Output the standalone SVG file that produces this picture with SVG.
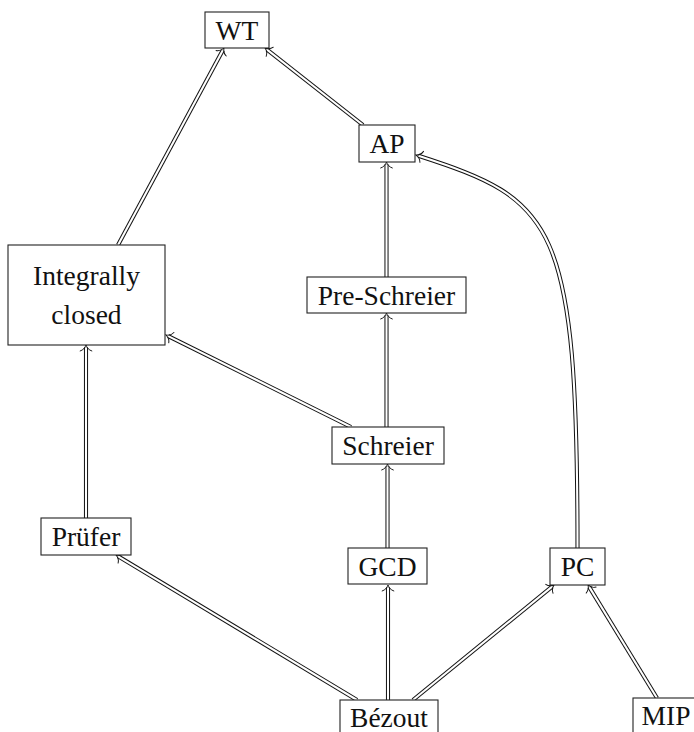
<svg xmlns="http://www.w3.org/2000/svg" width="694" height="732" viewBox="0 0 694 732">
<style>
.box{fill:#fff;stroke:#222;stroke-width:1.1}
.t{font-family:"Liberation Serif","Times New Roman",serif;font-size:27.5px;fill:#111;text-anchor:middle}
.o{fill:none;stroke:#111;stroke-width:4.1}
.i{fill:none;stroke:#fff;stroke-width:2.1}
</style>
<defs>
<marker id="tip" markerUnits="userSpaceOnUse" orient="auto" refX="0" refY="0" markerWidth="20" markerHeight="20" viewBox="-10 -10 20 20" overflow="visible">
<path d="M-3.5,-5.8 C-2.6,-2.7 0.3,-0.7 2.5,0 C0.3,0.7 -2.6,2.7 -3.5,5.8" fill="none" stroke="#111" stroke-width="0.95" stroke-linecap="round"/>
</marker>
</defs>
<rect width="694" height="732" fill="#fff"/>
<g id="connectors">
<g id="e1"><path class="o" d="M118,245 L222.8,50.2"/><path class="i" d="M118,245 L222.8,50.2" marker-end="url(#tip)"/></g>
<g id="e2"><path class="o" d="M363,125 L267,49.6"/><path class="i" d="M363,125 L267,49.6" marker-end="url(#tip)"/></g>
<g id="e3"><path class="o" d="M386.5,277 L386.5,164.5"/><path class="i" d="M386.5,277 L386.5,164.5" marker-end="url(#tip)"/></g>
<g id="e4"><path class="o" d="M386.5,427 L386.5,315.5"/><path class="i" d="M386.5,427 L386.5,315.5" marker-end="url(#tip)"/></g>
<g id="e5"><path class="o" d="M351,427 L168.2,336.1"/><path class="i" d="M351,427 L168.2,336.1" marker-end="url(#tip)"/></g>
<g id="e6"><path class="o" d="M86,518 L86,347.5"/><path class="i" d="M86,518 L86,347.5" marker-end="url(#tip)"/></g>
<g id="e7"><path class="o" d="M387.5,548 L387.5,466.5"/><path class="i" d="M387.5,548 L387.5,466.5" marker-end="url(#tip)"/></g>
<g id="e8"><path class="o" d="M357,700 L118.1,556.3"/><path class="i" d="M357,700 L118.1,556.3" marker-end="url(#tip)"/></g>
<g id="e9"><path class="o" d="M388,700 L388,587.5"/><path class="i" d="M388,700 L388,587.5" marker-end="url(#tip)"/></g>
<g id="e10"><path class="o" d="M413,700 L552.1,586.6"/><path class="i" d="M413,700 L552.1,586.6" marker-end="url(#tip)"/></g>
<g id="e11"><path class="o" d="M657,698 L589.3,587.1"/><path class="i" d="M657,698 L589.3,587.1" marker-end="url(#tip)"/></g>
<g id="e12"><path class="o" d="M577.5,548 C577.5,220 555,200 418.4,155.8"/><path class="i" d="M577.5,548 C577.5,220 555,200 418.4,155.8" marker-end="url(#tip)"/></g>
</g>
<g id="WT"><rect class="box" x="205" y="12" width="64" height="36"/><text class="t" x="237" y="39.5">WT</text></g>
<g id="AP"><rect class="box" x="359" y="125" width="56" height="37"/><text class="t" x="387" y="153">AP</text></g>
<g id="IntegrallyClosed"><rect class="box" x="8" y="245" width="157" height="100"/><text class="t" x="86.5" y="285">Integrally</text><text class="t" x="86.5" y="324">closed</text></g>
<g id="PreSchreier"><rect class="box" x="307" y="277" width="159" height="36"/><text class="t" x="386.5" y="304.5">Pre-Schreier</text></g>
<g id="Schreier"><rect class="box" x="332" y="427" width="112" height="37"/><text class="t" x="388" y="455">Schreier</text></g>
<g id="Prufer"><rect class="box" x="41" y="518" width="90" height="37"/><text class="t" x="86" y="546">Prüfer</text></g>
<g id="GCD"><rect class="box" x="348" y="548" width="79" height="36"/><text class="t" x="387.5" y="576">GCD</text></g>
<g id="PC"><rect class="box" x="550" y="548" width="55" height="37"/><text class="t" x="577.5" y="576">PC</text></g>
<g id="Bezout"><rect class="box" x="340" y="700" width="98" height="37"/><text class="t" x="389" y="726.5">Bézout</text></g>
<g id="MIP"><rect class="box" x="633" y="698" width="66" height="37"/><text class="t" x="666" y="725">MIP</text></g>
</svg>
